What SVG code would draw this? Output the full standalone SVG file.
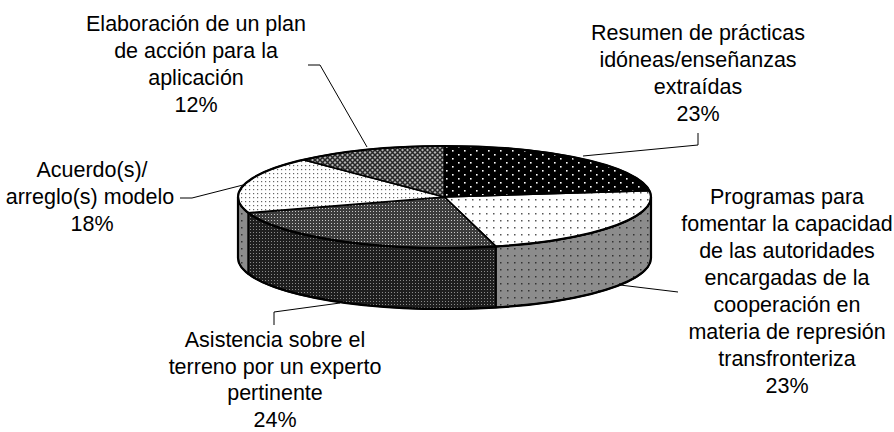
<svg xmlns="http://www.w3.org/2000/svg" width="894" height="432" viewBox="0 0 894 432">
<style>
.lbl{font-family:"Liberation Sans",Arial,sans-serif;font-size:21.5px;fill:#000;text-anchor:middle}
.edge{stroke:#000;stroke-width:1.6;stroke-linejoin:round}
.lead{fill:none;stroke:#000;stroke-width:1}
</style>
<defs>
<pattern id="pBlk" width="12" height="8" patternUnits="userSpaceOnUse">
<rect width="12" height="8" fill="#000"/>
<rect x="2" y="2" width="1.6" height="1.6" fill="#fff"/>
<rect x="8" y="6" width="1.6" height="1.6" fill="#fff"/>
</pattern>
<pattern id="pWht" width="7" height="7" patternUnits="userSpaceOnUse">
<rect width="7" height="7" fill="#fff"/>
<rect x="3" y="3" width="1.5" height="1.5" fill="#555"/>
</pattern>
<pattern id="pWhtDense" width="4" height="4" patternUnits="userSpaceOnUse">
<rect width="4" height="4" fill="#fff"/>
<rect x="1" y="1" width="1.2" height="1.2" fill="#666"/>
</pattern>
<pattern id="pGry" width="7" height="7" patternUnits="userSpaceOnUse">
<rect width="7" height="7" fill="#8c8c8c"/>
<rect x="3" y="3" width="1.5" height="1.5" fill="#333"/>
</pattern>
<pattern id="pGrid" width="3" height="3" patternUnits="userSpaceOnUse">
<rect width="3" height="3" fill="#3c3c3c"/>
<rect x="1" y="1" width="1" height="1" fill="#c8c8c8"/>
</pattern>
<pattern id="pGridDark" width="3" height="3" patternUnits="userSpaceOnUse">
<rect width="3" height="3" fill="#1e1e1e"/>
<rect x="1" y="1" width="1" height="1" fill="#8a8a8a"/>
</pattern>
<pattern id="pCross" width="5" height="5" patternUnits="userSpaceOnUse">
<rect width="5" height="5" fill="#b4b4b4"/>
<path d="M0,0 L5,5 M5,0 L0,5" stroke="#262626" stroke-width="1.5"/>
</pattern>
</defs>

<rect width="894" height="432" fill="#fff"/>

<g id="programas">
<path class="edge" d="M651,197 A206.5,51 0 0 1 495.9,246.4 L495.9,307.4 A206.5,51 0 0 0 651,258 Z" fill="url(#pGry)"/>
<path class="edge" d="M444.5,197 L649.4,190.6 A206.5,51 0 0 1 495.9,246.4 Z" fill="url(#pWht)"/>
<text class="lbl" x="787" y="204">Programas para</text>
<text class="lbl" x="787" y="231">fomentar la capacidad</text>
<text class="lbl" x="787" y="258">de las autoridades</text>
<text class="lbl" x="787" y="285">encargadas de la</text>
<text class="lbl" x="787" y="312">cooperación en</text>
<text class="lbl" x="787" y="339">materia de represión</text>
<text class="lbl" x="787" y="366">transfronteriza</text>
<text class="lbl" x="787" y="393">23%</text>
</g>

<g id="asistencia">
<path class="edge" d="M495.9,246.4 A206.5,51 0 0 1 248.1,212.8 L248.1,273.8 A206.5,51 0 0 0 495.9,307.4 Z" fill="url(#pGridDark)"/>
<path class="edge" d="M444.5,197 L495.9,246.4 A206.5,51 0 0 1 248.1,212.8 Z" fill="url(#pGrid)"/>
<text class="lbl" x="275" y="347">Asistencia sobre el</text>
<text class="lbl" x="275" y="373.5">terreno por un experto</text>
<text class="lbl" x="275" y="400">pertinente</text>
<text class="lbl" x="275" y="426.5">24%</text>
</g>

<g id="acuerdo">
<path class="edge" d="M248.1,212.8 A206.5,51 0 0 1 238,197 L238,258 A206.5,51 0 0 0 248.1,273.8 Z" fill="url(#pGry)"/>
<path class="edge" d="M444.5,197 L248.1,212.8 A206.5,51 0 0 1 303.2,159.8 Z" fill="url(#pWhtDense)"/>
<text class="lbl" x="92" y="177">Acuerdo(s)/</text>
<text class="lbl" x="90" y="204">arreglo(s) modelo</text>
<text class="lbl" x="92" y="231">18%</text>
</g>

<g id="elaboracion">
<path class="edge" d="M444.5,197 L303.2,159.8 A206.5,51 0 0 1 444.5,146 Z" fill="url(#pCross)"/>
<text class="lbl" x="196" y="31">Elaboración de un plan</text>
<text class="lbl" x="196" y="58">de acción para la</text>
<text class="lbl" x="196" y="85">aplicación</text>
<text class="lbl" x="196" y="112">12%</text>
</g>

<g id="resumen">
<path class="edge" d="M444.5,197 L444.5,146 A206.5,51 0 0 1 649.4,190.6 Z" fill="url(#pBlk)"/>
<text class="lbl" x="698" y="40">Resumen de prácticas</text>
<text class="lbl" x="698" y="67">idóneas/enseñanzas</text>
<text class="lbl" x="698" y="94">extraídas</text>
<text class="lbl" x="698" y="121">23%</text>
</g>

<g id="outline">
<ellipse cx="444.5" cy="197" rx="206.5" ry="51" fill="none" stroke="#000" stroke-width="2.2"/>
<path d="M238,197 L238,258 A206.5,51 0 0 0 651,258 L651,197" fill="none" stroke="#000" stroke-width="2.2"/>
</g>

<g id="connectors">
<polyline class="lead" points="308,65 320,65 367,147"/>
<polyline class="lead" points="698,133 698,145 583,156"/>
<polyline class="lead" points="620,285 678,292"/>
<polyline class="lead" points="180,198 192,198 243,185"/>
<polyline class="lead" points="274,325 274,312 340,303"/>
</g>
</svg>
